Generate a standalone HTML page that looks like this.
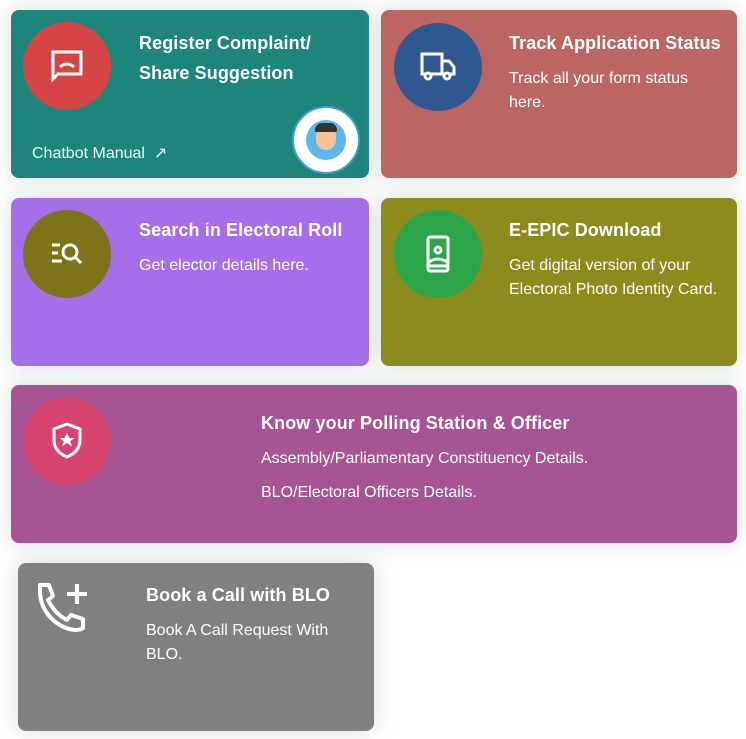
<!DOCTYPE html>
<html><head><meta charset="utf-8"><style>
*{margin:0;padding:0;box-sizing:border-box}
body{width:746px;height:739px;background:#fff;position:relative;overflow:hidden;font-family:"Liberation Sans",sans-serif;color:#fff}
.card{position:absolute;border-radius:8px;box-shadow:0 0 22px rgba(160,185,175,.45)}
.circ{position:absolute;width:88px;height:88px;border-radius:50%;display:flex;align-items:center;justify-content:center}
.t{position:absolute;font-weight:bold;font-size:18px;letter-spacing:.1px;white-space:nowrap}
.d{position:absolute;font-size:16px;line-height:24px;white-space:nowrap}
</style></head><body>

<div class="card" style="left:11px;top:10px;width:358px;height:168px;background:#1e857b">
 <div class="circ" style="left:12px;top:12px;background:#d64545">
  <svg width="36" height="36" viewBox="0 0 36 36" fill="none" stroke="#fff" stroke-width="3"><path d="M4 4h28v22H9l-5 5z"/><path d="M11 19q7-6 14 0"/></svg>
 </div>
 <div class="t" style="left:128px;top:23px">Register Complaint/</div>
 <div class="t" style="left:128px;top:53px">Share Suggestion</div>
 <div class="d" style="left:21px;top:132px;font-size:16px;color:#e6fbfa">Chatbot Manual&nbsp; ↗</div>
 <div style="position:absolute;left:281px;top:96px;width:68px;height:68px;border-radius:50%;background:#fff;border:2px solid #39a0d6;display:flex;align-items:center;justify-content:center">
  <div style="width:40px;height:40px;border-radius:50%;background:#5cb8ec;position:relative;overflow:hidden">
   <div style="position:absolute;left:10px;top:6px;width:20px;height:24px;border-radius:10px;background:#f6c29a"></div>
   <div style="position:absolute;left:9px;top:3px;width:22px;height:9px;border-radius:8px 8px 2px 2px;background:#333"></div>
  </div>
 </div>
</div>

<div class="card" style="left:381px;top:10px;width:356px;height:168px;background:#bb6662">
 <div class="circ" style="left:13px;top:13px;background:#2f5891">
  <svg width="38" height="32" viewBox="0 0 38 32" fill="none" stroke="#fff" stroke-width="3"><path d="M3 3h20v20H3zM23 10h7l5 6v7H23"/><circle cx="9" cy="25" r="3" fill="#2f5891"/><circle cx="28" cy="25" r="3" fill="#2f5891"/></svg>
 </div>
 <div class="t" style="left:128px;top:23px">Track Application Status</div>
 <div class="d" style="left:128px;top:57px">Track all your form status<br>here.</div>
</div>

<div class="card" style="left:11px;top:198px;width:358px;height:168px;background:#a66ee8">
 <div class="circ" style="left:12px;top:12px;background:#7d7318">
  <svg width="34" height="26" viewBox="0 0 34 26" fill="none" stroke="#fff" stroke-width="3"><path d="M2 4h8M2 12h6M2 20h10"/><circle cx="20" cy="11" r="7"/><path d="M25 16l6 6"/></svg>
 </div>
 <div class="t" style="left:128px;top:22px">Search in Electoral Roll</div>
 <div class="d" style="left:128px;top:56px">Get elector details here.</div>
</div>

<div class="card" style="left:381px;top:198px;width:356px;height:168px;background:#8c8b1e">
 <div class="circ" style="left:13px;top:12px;background:#2ca54a">
  <svg width="24" height="38" viewBox="0 0 24 38" fill="none" stroke="#fff" stroke-width="3"><rect x="2" y="2" width="20" height="34" rx="2"/><circle cx="12" cy="15" r="3"/><path d="M3 27q9-6 18 0M3 31h18"/></svg>
 </div>
 <div class="t" style="left:128px;top:22px">E-EPIC Download</div>
 <div class="d" style="left:128px;top:56px">Get digital version of your<br>Electoral Photo Identity Card.</div>
</div>

<div class="card" style="left:11px;top:385px;width:726px;height:158px;background:#a65494">
 <div class="circ" style="left:12px;top:12px;background:#d6456f">
  <svg width="32" height="38" viewBox="0 0 32 38" fill="none" stroke="#fff" stroke-width="3"><path d="M16 2l13 5v11c0 9-6 14-13 17C9 32 3 27 3 18V7z"/><path d="M16 11l2.3 5h5l-4 3.2 1.5 5L16 21l-4.8 3.2 1.5-5-4-3.2h5z" fill="#fff" stroke="none"/></svg>
 </div>
 <div class="t" style="left:250px;top:28px">Know your Polling Station &amp; Officer</div>
 <div class="d" style="left:250px;top:62px">Assembly/Parliamentary Constituency Details.</div>
 <div class="d" style="left:250px;top:96px">BLO/Electoral Officers Details.</div>
</div>

<div class="card" style="left:18px;top:563px;width:356px;height:168px;background:#808080">
 <svg style="position:absolute;left:18px;top:18px" width="56" height="56" viewBox="0 0 56 56" fill="none" stroke="#fff" stroke-width="4" stroke-linejoin="round"><path d="M4 4h9l4 11-5 4q7 14 19 20l4-5 12 4v9q-2 2-8 2C20 47 4 30 4 10z"/><path d="M41 3v20M31 13h20"/></svg>
 <div class="t" style="left:128px;top:22px">Book a Call with BLO</div>
 <div class="d" style="left:128px;top:56px">Book A Call Request With<br>BLO.</div>
</div>
</body></html>
